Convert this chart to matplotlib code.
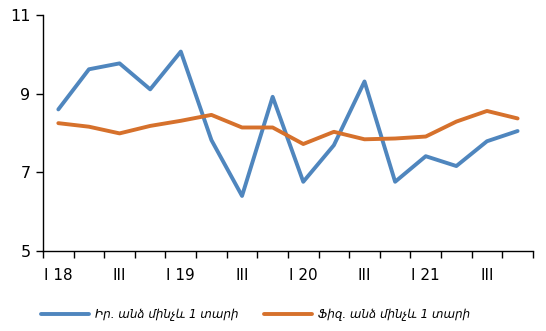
import numpy as np
import matplotlib.pyplot as plt

# Quarterly series, I 2018 .. IV 2021
quarters = ["I 18", "II", "III", "IV", "I 19", "II", "III", "IV",
            "I 20", "II", "III", "IV", "I 21", "II", "III", "IV"]
legal = [8.60, 9.62, 9.77, 9.11, 10.07, 7.82, 6.40, 8.92,
         6.76, 7.69, 9.31, 6.76, 7.41, 7.16, 7.79, 8.05]
physical = [8.25, 8.16, 7.99, 8.18, 8.31, 8.46, 8.14, 8.14,
            7.72, 8.03, 7.84, 7.86, 7.91, 8.29, 8.56, 8.37]
labels = ["Իր. անձ մինչև 1 տարի", "Ֆիզ. անձ մինչև 1 տարի"]

BLUE = "#4F86BE"
ORANGE = "#D6712C"

fig = plt.figure(figsize=(5.46, 3.31), dpi=100)
ax = fig.add_axes([0.0788, 0.2417, 0.8972, 0.713])

x = np.arange(len(quarters)) + 0.5
ax.plot(x, legal, color=BLUE, lw=2.8, solid_capstyle="round", label=labels[0])
ax.plot(x, physical, color=ORANGE, lw=2.8, solid_capstyle="round", label=labels[1])

ax.set_xlim(0, len(quarters))
ax.set_ylim(5, 11)
ax.set_yticks([5, 7, 9, 11])

# tick marks on category boundaries, labels every second quarter
ax.set_xticks(np.arange(len(quarters) + 1))
ax.set_xticklabels([])
ax.set_xticks(x[::2], minor=True)
ax.set_xticklabels(quarters[::2], minor=True)
ax.tick_params(axis="x", which="minor", length=0, pad=12, labelsize=11)
ax.tick_params(axis="x", which="major", length=5, width=1)
ax.tick_params(axis="y", length=5, width=1, labelsize=11.5, pad=4)

for s in ["top", "right"]:
    ax.spines[s].set_visible(False)
for s in ["left", "bottom"]:
    ax.spines[s].set_linewidth(1)

fig.legend(loc="center", bbox_to_anchor=(0.468, 0.05), ncol=2, frameon=False,
           handlelength=4.0, columnspacing=2.2, handletextpad=0.5,
           prop={"family": "DejaVu Sans", "style": "italic", "size": 8.6})

fig.savefig("out.png", dpi=100)
